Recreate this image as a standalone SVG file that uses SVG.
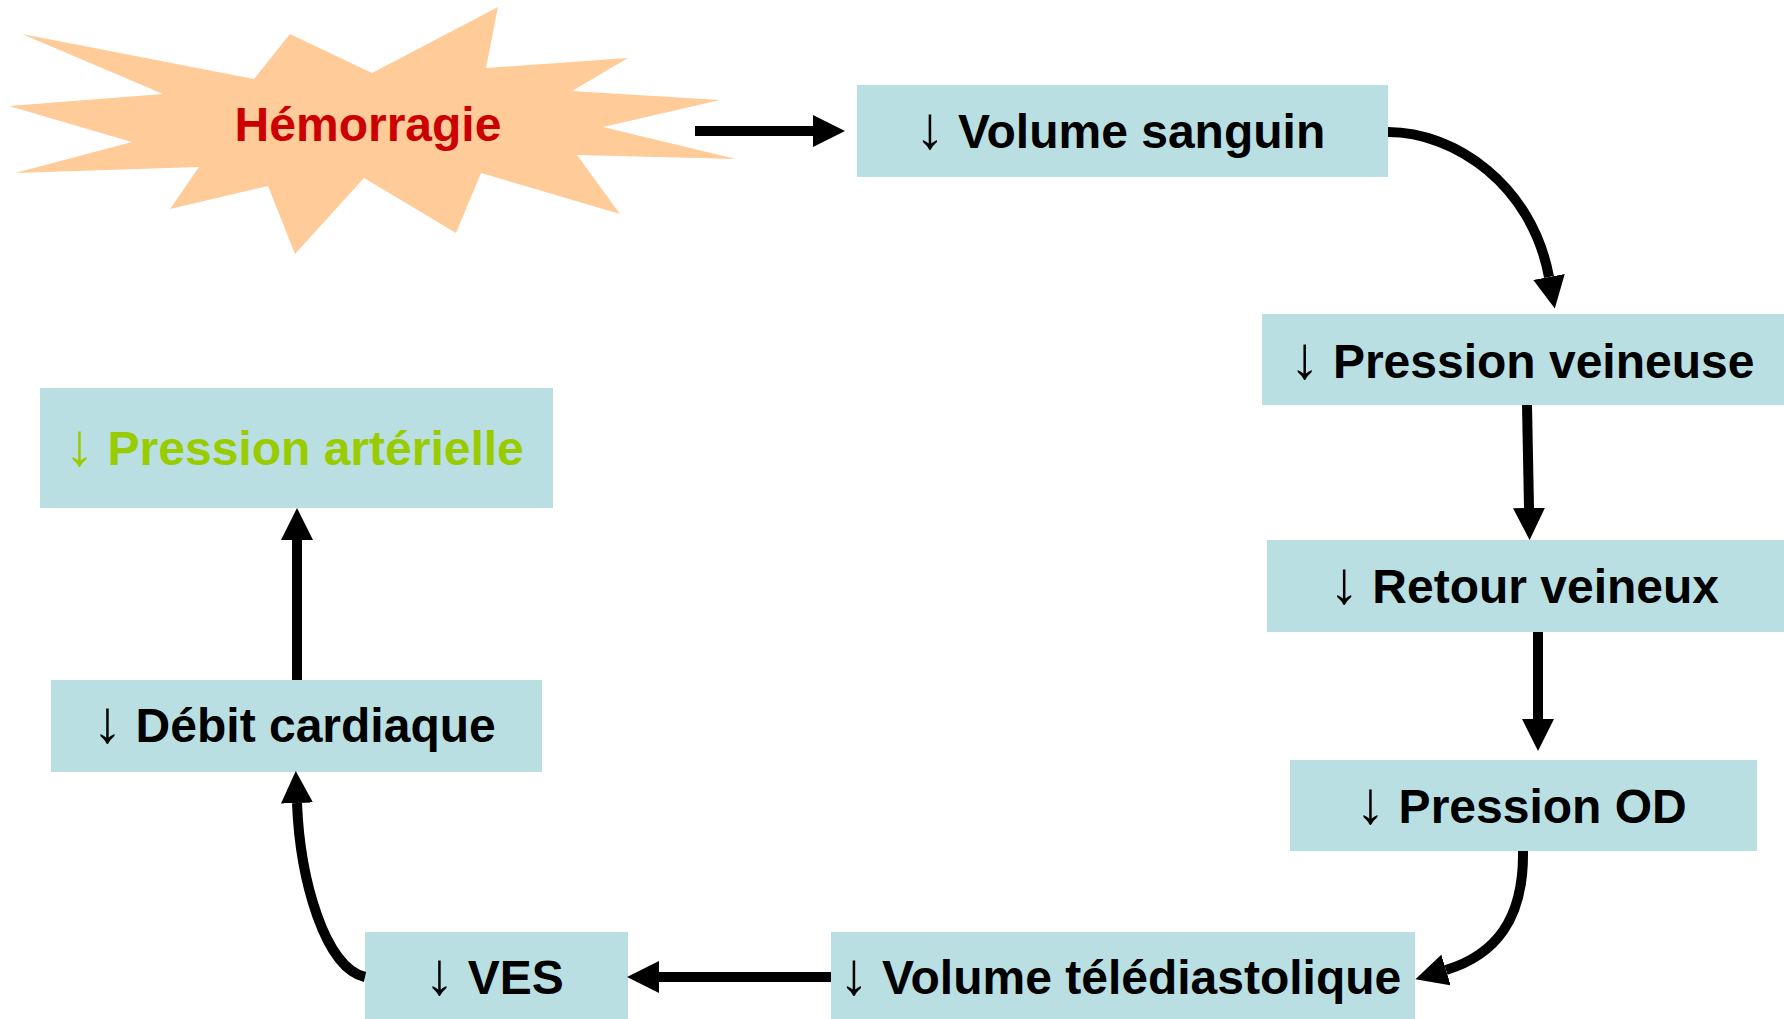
<svg xmlns="http://www.w3.org/2000/svg" width="1784" height="1019" viewBox="0 0 1784 1019">
<style>
.box{fill:#BADFE2;}
.t{font-family:"Liberation Sans",Arial,sans-serif;font-weight:bold;font-size:48px;text-anchor:middle;fill:#000;}
.a{font-size:60px;}
.c{fill:none;stroke:#000;stroke-width:10;}
</style>
<defs>
<marker id="ah" markerUnits="userSpaceOnUse" markerWidth="32" markerHeight="32" viewBox="0 0 32 32" refX="0" refY="16" orient="auto">
<path d="M0,0 L32,16 L0,32 z" fill="#000"/>
</marker>
</defs>
<rect width="1784" height="1019" fill="#fff"/>
<g id="hemorragie">
<polygon fill="#FFCC99" points="498,7 486,68 628,58 572,91 720,100 603,127 736,159 577,155 620,214 481,173 456,233 364,178 295,254 268,186 170,209 199,167 15,173 132,142 9,106 163,94 22,34 254,79 290,34 372,73"/>
<text class="t" x="368" y="141" style="fill:#CC0000">Hémorragie</text>
</g>
<g id="volume-sanguin">
<rect class="box" x="857" y="85" width="531" height="92"/>
<text class="t" x="1120" y="148"><tspan class="a">↓</tspan> Volume sanguin</text>
</g>
<g id="pression-veineuse">
<rect class="box" x="1262" y="314" width="522" height="91"/>
<text class="t" x="1522" y="378"><tspan class="a">↓</tspan> Pression veineuse</text>
</g>
<g id="retour-veineux">
<rect class="box" x="1267" y="540" width="517" height="92"/>
<text class="t" x="1524" y="603"><tspan class="a">↓</tspan> Retour veineux</text>
</g>
<g id="pression-od">
<rect class="box" x="1290" y="760" width="467" height="91"/>
<text class="t" x="1521" y="823"><tspan class="a">↓</tspan> Pression OD</text>
</g>
<g id="volume-telediastolique">
<rect class="box" x="831" y="932" width="584" height="87"/>
<text class="t" x="1120" y="994"><tspan class="a">↓</tspan> Volume télédiastolique</text>
</g>
<g id="ves">
<rect class="box" x="365" y="932" width="263" height="87"/>
<text class="t" x="494" y="994"><tspan class="a">↓</tspan> VES</text>
</g>
<g id="debit-cardiaque">
<rect class="box" x="51" y="680" width="491" height="92"/>
<text class="t" x="294" y="742"><tspan class="a">↓</tspan> Débit cardiaque</text>
</g>
<g id="pression-arterielle">
<rect class="box" x="40" y="388" width="513" height="120"/>
<text class="t" x="294" y="465" style="fill:#99CC00"><tspan class="a">↓</tspan> Pression artérielle</text>
</g>
<g id="connectors">
<path class="c" d="M695,131 L813,131" marker-end="url(#ah)"/>
<path class="c" d="M1388,132 C1455,132 1532,185 1549,277" marker-end="url(#ah)"/>
<path class="c" d="M1527,405 L1529,508" marker-end="url(#ah)"/>
<path class="c" d="M1538,632 L1538,719" marker-end="url(#ah)"/>
<path class="c" d="M1523,851 C1524,920 1495,955 1446,970" marker-end="url(#ah)"/>
<path class="c" d="M831,977 L659,977" marker-end="url(#ah)"/>
<path class="c" d="M365,977 C325,968 300,880 297,803" marker-end="url(#ah)"/>
<path class="c" d="M297,680 L297,540" marker-end="url(#ah)"/>
</g>
</svg>
